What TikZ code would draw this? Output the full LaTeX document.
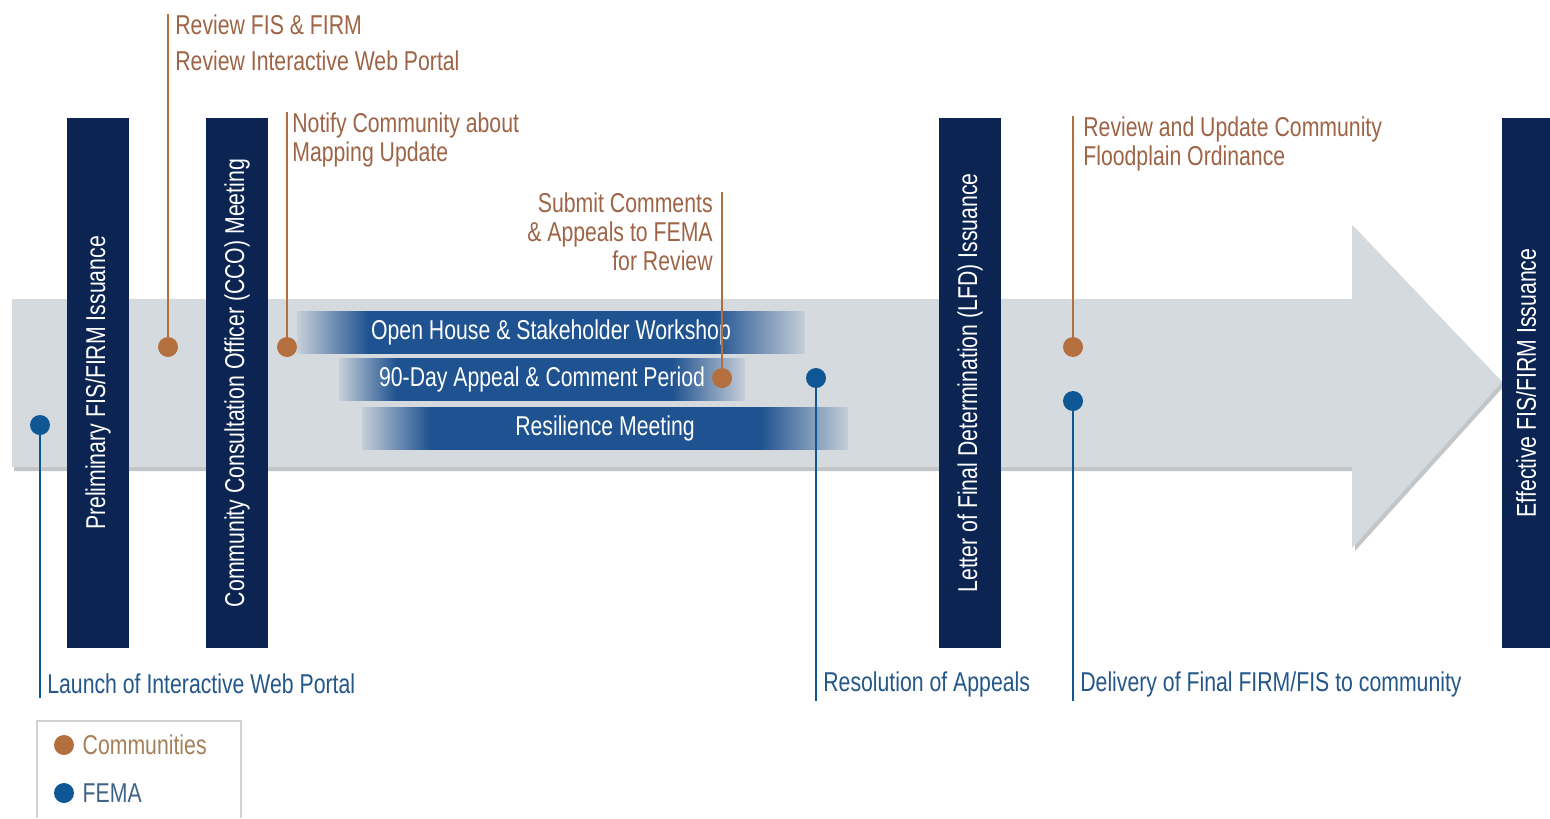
\documentclass[tikz,border=0pt]{standalone}
\usepackage{xcolor}
\usepackage{fontspec}
\setmainfont{Liberation Sans}[FakeStretch=0.78]
\usepackage{tikz}
\usetikzlibrary{positioning}

\definecolor{navy}{HTML}{0B2452}
\definecolor{commbrown}{HTML}{B36F3E}
\definecolor{femablue}{HTML}{0F5694}
\definecolor{txtbrown}{HTML}{9E6446}
\definecolor{txtblue}{HTML}{24578A}
\definecolor{arrowgray}{HTML}{D5DADF}
\definecolor{shadowgray}{HTML}{9AA0A6}
\definecolor{bandblue}{HTML}{1F5290}
\definecolor{bandlight}{HTML}{C5CED8}
\definecolor{keygray}{HTML}{CFD3D6}

% light at both ends, dark blue through the middle
\pgfdeclarehorizontalshading{bandfade}{100bp}{color(0bp)=(bandlight); color(25bp)=(bandlight);
  color(32bp)=(bandblue); color(66bp)=(bandblue); color(75bp)=(bandlight); color(100bp)=(bandlight)}

\begin{document}
\begin{tikzpicture}[x=0.02cm, y=-0.02cm, font=\fontsize{15.5}{16.5}\selectfont,
    stagebar/.style={fill=navy, text=white, rotate=90, inner sep=0, minimum width=10.6cm, minimum height=1.24cm},
    band/.style={shading=bandfade, text=white, inner sep=0, minimum height=0.84cm},
    cdot/.style={circle, fill=commbrown, inner sep=0, minimum size=0.4cm},
    fdot/.style={circle, fill=femablue, inner sep=0, minimum size=0.4cm},
    clabel/.style={text=txtbrown, inner sep=0, align=left},
    flabel/.style={text=txtblue, inner xsep=0, inner ysep=2pt},
    cline/.style={draw=commbrown, line width=1.1pt},
    fline/.style={draw=femablue, line width=1.1pt}]
    \path[fill=white, use as bounding box] (0,0) rectangle (1550,818);

    % timeline arrow with its shadow
    \fill[shadowgray, opacity=0.6] (14,302) -- (1355,302) -- (1355,228) -- (1505,385) -- (1355,551) -- (1355,471) -- (14,471) -- cycle;
    \fill[arrowgray] (12,299) -- (1352,299) -- (1352,225) -- (1502,382) -- (1352,548) -- (1352,467) -- (12,467) -- cycle;

    % milestones
    \node[stagebar] (prelim) at (98,383) {Preliminary FIS/FIRM Issuance};
    \node[stagebar] (cco) at (237,383) {Community Consultation Officer (CCO) Meeting};
    \node[stagebar] (lfd) at (970,383) {Letter of Final Determination (LFD) Issuance};
    \node[stagebar, minimum height=0.96cm] (effective) at (1526,383) {Effective FIS/FIRM Issuance};

    % activities
    \node[band, minimum width=10.14cm] (openhouse) at (551,332) {Open House \& Stakeholder Workshop};
    \node[band, minimum width=8.1cm] (appeal) at (542,379) {90-Day Appeal \& Comment Period};
    \node[band, minimum width=9.72cm] (resilience) at (605,428) {Resilience Meeting};

    % community steps
    \node[cdot] (c1) at (168,347) {};
    \node[cdot] (c2) at (287,347) {};
    \node[cdot] (c3) at (722,378) {};
    \node[cdot] (c4) at (1073,347) {};
    \node[clabel, anchor=north west] (reviewfis) at (175,14) {Review FIS \& FIRM\\[4.5pt]Review Interactive Web Portal};
    \node[clabel, anchor=north west] (notify) at (292,112) {Notify Community about\\Mapping Update};
    \node[clabel, anchor=north east, align=right] (submit) at (713,192) {Submit Comments\\\& Appeals to FEMA\\for Review};
    \node[clabel, anchor=north west] (ordinance) at (1083,116) {Review and Update Community\\Floodplain Ordinance};
    \draw[cline] (c1) -- (c1 |- reviewfis.north);
    \draw[cline] (c2) -- (c2 |- notify.north);
    \draw[cline] (c3) -- (c3 |- submit.north);
    \draw[cline] (c4) -- (c4 |- ordinance.north);

    % FEMA steps
    \node[fdot] (f1) at (40,425) {};
    \node[fdot] (f2) at (816,378) {};
    \node[fdot] (f3) at (1073,401) {};
    \node[flabel, anchor=west] (launch) at (47,684) {Launch of Interactive Web Portal};
    \node[flabel, anchor=west] (resolution) at (823,684) {Resolution of Appeals};
    \node[flabel, anchor=west] (delivery) at (1080,684) {Delivery of Final FIRM/FIS to community};
    \draw[fline] (f1) -- (f1 |- launch.south);
    \draw[fline] (f2) -- (f2 |- resolution.south);
    \draw[fline] (f3) -- (f3 |- delivery.south);

    % key
    \draw[keygray, line width=1.2pt] (37,818) |- (241,721) -- (241,818);
    \node[cdot] (keycomm) at (64,745) {};
    \node[right=0.16cm of keycomm, inner sep=0, text=brown!60!gray] (keycommtext) {Communities};
    \node[fdot] (keyfema) at (64,793) {};
    \node[right=0.16cm of keyfema, inner sep=0, text=txtblue!70!gray] (keyfematext) {FEMA};
\end{tikzpicture}
\end{document}
